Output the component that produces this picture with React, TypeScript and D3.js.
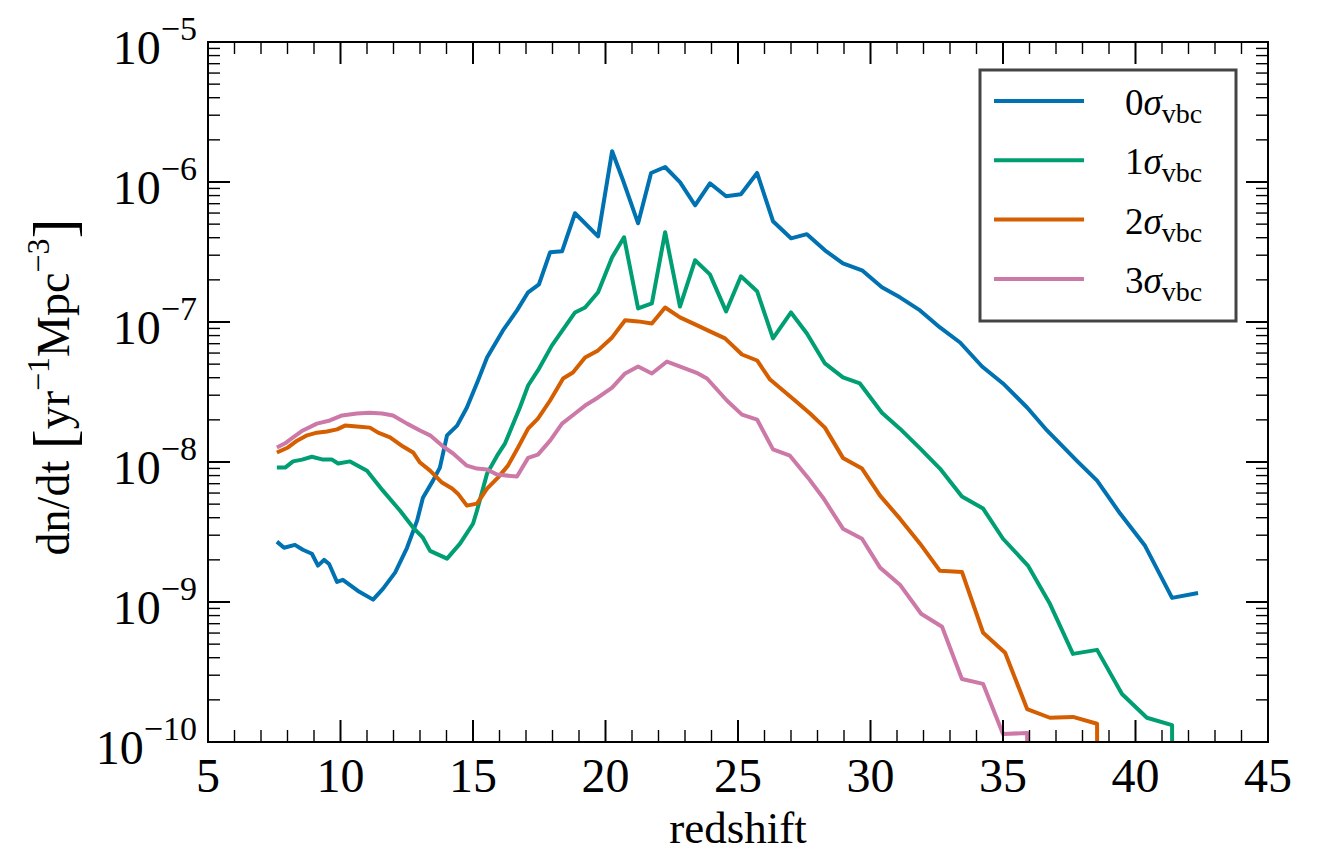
import React from "react";
import * as d3 from "d3";

// redshift grid and dn/dt for each streaming velocity
const redshift0 = [7.60, 7.87, 8.28, 8.58, 8.92, 9.15, 9.38, 9.57, 9.87, 10.09, 10.66, 11.23, 11.60, 12.06, 12.51, 12.89, 13.11, 13.49, 13.75, 14.02, 14.40, 14.77, 15.19, 15.53, 16.13, 16.66, 17.08, 17.49, 17.91, 18.36, 18.85, 19.72, 20.25, 20.66, 21.23, 21.72, 22.25, 22.81, 23.38, 23.94, 24.55, 25.11, 25.72, 26.32, 27.00, 27.60, 28.28, 28.96, 29.68, 30.43, 31.11, 31.87, 32.62, 33.38, 34.21, 35.00, 35.91, 36.66, 37.04, 37.79, 38.55, 39.42, 40.36, 41.38, 42.36];
const rate0 = [2.70e-9, 2.44e-9, 2.56e-9, 2.36e-9, 2.21e-9, 1.82e-9, 2.00e-9, 1.87e-9, 1.39e-9, 1.44e-9, 1.20e-9, 1.04e-9, 1.24e-9, 1.62e-9, 2.44e-9, 3.81e-9, 5.56e-9, 7.36e-9, 9.12e-9, 1.55e-8, 1.82e-8, 2.45e-8, 3.82e-8, 5.58e-8, 8.71e-8, 1.21e-7, 1.63e-7, 1.86e-7, 3.15e-7, 3.20e-7, 5.98e-7, 4.09e-7, 1.66e-6, 1.03e-6, 5.07e-7, 1.16e-6, 1.28e-6, 9.98e-7, 6.82e-7, 9.79e-7, 7.91e-7, 8.18e-7, 1.16e-6, 5.25e-7, 3.96e-7, 4.24e-7, 3.25e-7, 2.62e-7, 2.34e-7, 1.77e-7, 1.50e-7, 1.21e-7, 9.14e-8, 7.14e-8, 4.81e-8, 3.64e-8, 2.45e-8, 1.68e-8, 1.42e-8, 1.02e-8, 7.36e-9, 4.28e-9, 2.52e-9, 1.07e-9, 1.16e-9];

const redshift1 = [7.60, 7.91, 8.21, 8.55, 8.92, 9.34, 9.68, 9.91, 10.36, 11.00, 11.60, 12.25, 12.74, 13.11, 13.38, 14.02, 14.51, 15.00, 15.15, 15.53, 15.91, 16.21, 16.77, 17.08, 17.45, 17.98, 18.85, 19.23, 19.72, 20.25, 20.70, 21.23, 21.75, 22.25, 22.81, 23.38, 23.94, 24.55, 25.11, 25.72, 26.32, 27.00, 27.60, 28.28, 28.96, 29.60, 30.43, 31.11, 31.87, 32.62, 33.45, 34.25, 35.00, 35.94, 36.77, 37.64, 38.55, 39.49, 40.43, 41.38, 41.40];
const rate1 = [9.12e-9, 9.12e-9, 1.01e-8, 1.04e-8, 1.09e-8, 1.04e-8, 1.04e-8, 9.75e-9, 1.01e-8, 8.67e-9, 6.24e-9, 4.49e-9, 3.40e-9, 2.88e-9, 2.32e-9, 2.04e-9, 2.61e-9, 3.62e-9, 4.49e-9, 8.26e-9, 1.11e-8, 1.36e-8, 2.45e-8, 3.52e-8, 4.51e-8, 6.81e-8, 1.17e-7, 1.27e-7, 1.63e-7, 2.90e-7, 4.03e-7, 1.25e-7, 1.36e-7, 4.38e-7, 1.29e-7, 2.76e-7, 2.19e-7, 1.19e-7, 2.12e-7, 1.66e-7, 7.64e-8, 1.17e-7, 8.28e-8, 5.06e-8, 4.02e-8, 3.64e-8, 2.25e-8, 1.73e-8, 1.25e-8, 8.97e-9, 5.66e-9, 4.65e-9, 2.83e-9, 1.82e-9, 9.70e-10, 4.26e-10, 4.55e-10, 2.20e-10, 1.49e-10, 1.32e-10, 1e-11];

const redshift2 = [7.60, 8.02, 8.36, 8.74, 9.11, 9.49, 9.87, 10.17, 10.62, 11.11, 11.42, 11.87, 12.36, 12.74, 13.00, 13.38, 13.83, 14.21, 14.43, 14.77, 15.15, 15.53, 15.94, 16.32, 16.70, 17.08, 17.45, 17.91, 18.40, 18.77, 19.23, 19.72, 20.25, 20.74, 21.23, 21.75, 22.25, 22.81, 23.38, 23.94, 24.51, 25.15, 25.72, 26.21, 27.15, 27.72, 28.28, 28.96, 29.68, 30.36, 31.11, 31.87, 32.62, 33.45, 34.25, 35.08, 35.91, 36.77, 37.64, 38.55, 38.57];
const rate2 = [1.17e-8, 1.27e-8, 1.42e-8, 1.55e-8, 1.62e-8, 1.65e-8, 1.71e-8, 1.82e-8, 1.79e-8, 1.76e-8, 1.62e-8, 1.50e-8, 1.29e-8, 1.17e-8, 9.91e-9, 8.67e-9, 7.13e-9, 6.46e-9, 5.94e-9, 4.88e-9, 5.04e-9, 6.46e-9, 7.73e-9, 9.42e-9, 1.27e-8, 1.73e-8, 2.04e-8, 2.75e-8, 3.95e-8, 4.36e-8, 5.58e-8, 6.27e-8, 7.76e-8, 1.03e-7, 1.01e-7, 9.77e-8, 1.27e-7, 1.08e-7, 9.62e-8, 8.57e-8, 7.64e-8, 5.86e-8, 5.31e-8, 3.88e-8, 2.75e-8, 2.22e-8, 1.76e-8, 1.07e-8, 8.97e-9, 5.75e-9, 3.94e-9, 2.61e-9, 1.67e-9, 1.64e-9, 6.03e-10, 4.34e-10, 1.72e-10, 1.49e-10, 1.51e-10, 1.35e-10, 1e-11];

const redshift3 = [7.60, 7.91, 8.21, 8.58, 9.11, 9.60, 10.06, 10.62, 11.11, 11.57, 11.98, 12.51, 13.00, 13.38, 13.83, 14.25, 14.77, 15.15, 15.53, 15.91, 16.66, 17.08, 17.45, 17.91, 18.36, 18.85, 19.23, 19.72, 20.25, 20.74, 21.23, 21.75, 22.32, 22.92, 23.49, 23.83, 24.58, 25.15, 25.72, 26.32, 26.96, 27.64, 28.21, 28.96, 29.68, 30.36, 31.11, 31.91, 32.70, 33.45, 34.25, 35.00, 35.91, 35.95];
const rate3 = [1.27e-8, 1.36e-8, 1.50e-8, 1.68e-8, 1.88e-8, 1.98e-8, 2.15e-8, 2.22e-8, 2.25e-8, 2.22e-8, 2.15e-8, 1.88e-8, 1.68e-8, 1.55e-8, 1.31e-8, 1.15e-8, 9.42e-9, 8.97e-9, 8.83e-9, 8.13e-9, 7.87e-9, 1.07e-8, 1.13e-8, 1.42e-8, 1.88e-8, 2.22e-8, 2.53e-8, 2.89e-8, 3.40e-8, 4.29e-8, 4.81e-8, 4.29e-8, 5.22e-8, 4.73e-8, 4.29e-8, 3.95e-8, 2.75e-8, 2.18e-8, 2.01e-8, 1.23e-8, 1.11e-8, 7.73e-9, 5.56e-9, 3.34e-9, 2.83e-9, 1.76e-9, 1.33e-9, 8.24e-10, 6.65e-10, 2.82e-10, 2.60e-10, 1.14e-10, 1.16e-10, 1e-11];

const sigmaLabels = ["0", "1", "2", "3"];
const colors = ["#0072B2", "#009E73", "#D55E00", "#CC79A7"];
const xTicks = [5, 10, 15, 20, 25, 30, 35, 40, 45];
const yExponents = [-10, -9, -8, -7, -6, -5];

const FONT = "'Liberation Serif', 'DejaVu Serif', serif";

export default function App() {
  const width = 1323, height = 853;
  const margin = { top: 42, right: 55, bottom: 111, left: 208 };
  const w = width - margin.left - margin.right;
  const h = height - margin.top - margin.bottom;

  const x = d3.scaleLinear().domain([5, 45]).range([0, w]);
  const y = d3.scaleLog().domain([1e-10, 1e-5]).range([h, 0]);

  const series = [
    { z: redshift0, v: rate0 },
    { z: redshift1, v: rate1 },
    { z: redshift2, v: rate2 },
    { z: redshift3, v: rate3 },
  ];
  const line = d3.line<[number, number]>().x(d => x(d[0])).y(d => y(d[1]));
  const pathFor = (s: { z: number[]; v: number[] }) =>
    line(s.z.map((z, i) => [z, s.v[i]] as [number, number]));

  const minorX = d3.range(5, 46).filter(v => v % 5 !== 0);
  const minorY = yExponents.slice(0, -1).flatMap(e => d3.range(2, 10).map(m => m * Math.pow(10, e)));
  const major = 22, minor = 12;

  return (
    <div style={{ position: "absolute", left: 0, top: 0 }}>
      <svg width={width} height={height} style={{ display: "block", background: "#fff", fontFamily: FONT }}>
        <defs>
          <clipPath id="plot-clip">
            <rect x={0} y={0} width={w} height={h} />
          </clipPath>
        </defs>
        <g transform={`translate(${margin.left},${margin.top})`}>
          <g clipPath="url(#plot-clip)">
            {series.map((s, i) => (
              <path key={i} d={pathFor(s) || ""} fill="none" stroke={colors[i]} strokeWidth={4} strokeLinejoin="round" />
            ))}
          </g>

          {/* ticks, inward on all four sides */}
          {xTicks.map(t => (
            <g key={"xt" + t} stroke="#000" strokeWidth={2}>
              <line x1={x(t)} x2={x(t)} y1={h} y2={h - major} />
              <line x1={x(t)} x2={x(t)} y1={0} y2={major} />
            </g>
          ))}
          {minorX.map(t => (
            <g key={"xm" + t} stroke="#000" strokeWidth={1.4}>
              <line x1={x(t)} x2={x(t)} y1={h} y2={h - minor} />
              <line x1={x(t)} x2={x(t)} y1={0} y2={minor} />
            </g>
          ))}
          {yExponents.map(e => (
            <g key={"yt" + e} stroke="#000" strokeWidth={2}>
              <line x1={0} x2={major} y1={y(Math.pow(10, e))} y2={y(Math.pow(10, e))} />
              <line x1={w} x2={w - major} y1={y(Math.pow(10, e))} y2={y(Math.pow(10, e))} />
            </g>
          ))}
          {minorY.map((t, i) => (
            <g key={"ym" + i} stroke="#000" strokeWidth={1.4}>
              <line x1={0} x2={minor} y1={y(t)} y2={y(t)} />
              <line x1={w} x2={w - minor} y1={y(t)} y2={y(t)} />
            </g>
          ))}

          <rect x={0} y={0} width={w} height={h} fill="none" stroke="#000" strokeWidth={2} />

          {/* tick labels */}
          {xTicks.map(t => (
            <text key={"xl" + t} x={x(t)} y={h + 50} textAnchor="middle" fontSize={48} fill="#000">{t}</text>
          ))}
          {yExponents.map(e => (
            <text key={"yl" + e} x={-11} y={y(Math.pow(10, e)) + 22} textAnchor="end" fontSize={48} fill="#000">
              <tspan>10</tspan>
              <tspan dy={-24} fontSize={34}>{"\u2212" + Math.abs(e)}</tspan>
            </text>
          ))}

          {/* axis labels */}
          <text x={w / 2} y={h + 101} textAnchor="middle" fontSize={45} fill="#000">redshift</text>
          <text transform={`translate(${69 - margin.left},${345}) rotate(-90)`} textAnchor="middle" fontSize={46} fill="#000">
            <tspan>dn/dt </tspan>
            <tspan fontSize={60} dy={5}>[</tspan>
            <tspan dy={-5}>yr</tspan>
            <tspan fontSize={32} dy={-20}>{"\u22121"}</tspan>
            <tspan dy={20}>Mpc</tspan>
            <tspan fontSize={32} dy={-20}>{"\u22123"}</tspan>
            <tspan fontSize={60} dy={25}>]</tspan>
          </text>
        </g>

        {/* legend */}
        <g>
          <rect x={980} y={70} width={256} height={251} fill="#fff" stroke="#444" strokeWidth={3} />
          {sigmaLabels.map((lab, i) => {
            const ry = 101 + i * 59.3;
            return (
              <g key={"lg" + i}>
                <line x1={994} x2={1084} y1={ry} y2={ry} stroke={colors[i]} strokeWidth={4} />
                <text x={1125} y={ry + 14} fontSize={37} fill="#000">
                  <tspan>{lab}</tspan>
                  <tspan fontStyle="italic">σ</tspan>
                  <tspan fontSize={28} dy={8}>vbc</tspan>
                </text>
              </g>
            );
          })}
        </g>
      </svg>
    </div>
  );
}
